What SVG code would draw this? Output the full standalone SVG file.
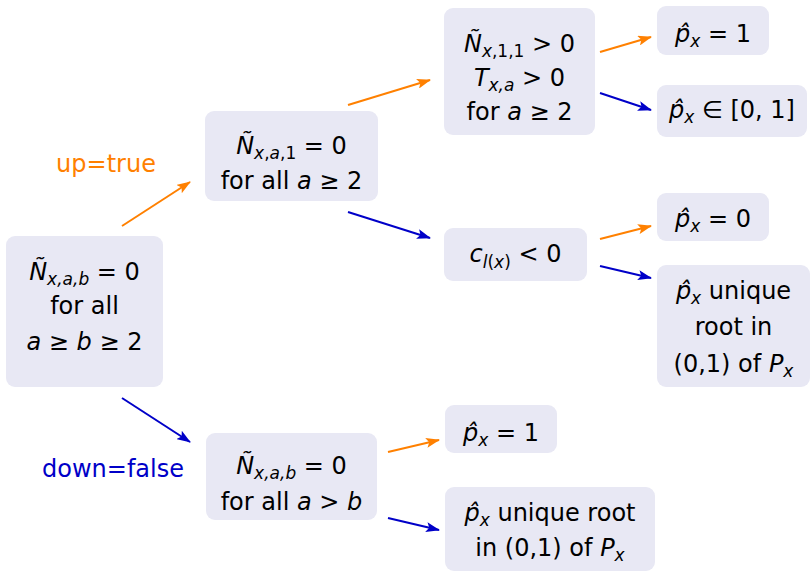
<svg xmlns="http://www.w3.org/2000/svg" width="811" height="571" viewBox="0 0 811 571">
<style>
.box{fill:#e8e8f4}
.t{font-family:"DejaVu Sans",sans-serif;font-size:24px;fill:#000;text-anchor:middle}
.i{font-style:italic}
.s{font-size:17px}
.lab{font-family:"DejaVu Sans",sans-serif;font-size:24px;text-anchor:middle}
.o{stroke:#ff8000;stroke-width:2;fill:none}
.b{stroke:#0000c8;stroke-width:2;fill:none}
</style>
<defs>
<marker id="ao" markerUnits="userSpaceOnUse" markerWidth="14" markerHeight="10" refX="13" refY="5" orient="auto"><path d="M0,0 L14,5 L0,10 L3,5 z" fill="#ff8000"/></marker>
<marker id="ab" markerUnits="userSpaceOnUse" markerWidth="14" markerHeight="10" refX="13" refY="5" orient="auto"><path d="M0,0 L14,5 L0,10 L3,5 z" fill="#0000c8"/></marker>
</defs>
<g id="connectors">
<line class="o" x1="122" y1="226" x2="190" y2="182" marker-end="url(#ao)"/>
<line class="b" x1="122" y1="398" x2="190" y2="442" marker-end="url(#ab)"/>
<line class="o" x1="348" y1="105" x2="430" y2="80" marker-end="url(#ao)"/>
<line class="b" x1="348" y1="212" x2="430" y2="238" marker-end="url(#ab)"/>
<line class="o" x1="600" y1="52" x2="651" y2="37" marker-end="url(#ao)"/>
<line class="b" x1="600" y1="93" x2="651" y2="110" marker-end="url(#ab)"/>
<line class="o" x1="600" y1="239" x2="651" y2="226" marker-end="url(#ao)"/>
<line class="b" x1="600" y1="266" x2="651" y2="278" marker-end="url(#ab)"/>
<line class="o" x1="388" y1="452" x2="439" y2="440" marker-end="url(#ao)"/>
<line class="b" x1="388" y1="518" x2="439" y2="530" marker-end="url(#ab)"/>
<text class="lab" x="106" y="172" fill="#ff8000">up=true</text>
<text class="lab" x="113" y="477" fill="#0000c8">down=false</text>
</g>
<g id="root">
<rect class="box" x="6" y="236" width="157" height="151" rx="9"/>
<text class="t" x="84.5" y="280"><tspan class="i">Ñ</tspan><tspan class="s i" dy="5">x,a,b</tspan><tspan dy="-5"> = 0</tspan></text>
<text class="t" x="84.5" y="314">for all</text>
<text class="t" x="84.5" y="350"><tspan class="i">a</tspan> ≥ <tspan class="i">b</tspan> ≥ 2</text>
</g>
<g id="nodeA">
<rect class="box" x="205" y="111" width="173" height="90" rx="9"/>
<text class="t" x="291.5" y="154"><tspan class="i">Ñ</tspan><tspan class="s" dy="5"><tspan class="i">x</tspan>,<tspan class="i">a</tspan>,1</tspan><tspan dy="-5"> = 0</tspan></text>
<text class="t" x="291.5" y="189">for all <tspan class="i">a</tspan> ≥ 2</text>
</g>
<g id="nodeB">
<rect class="box" x="444" y="8" width="151" height="127" rx="9"/>
<text class="t" x="519.5" y="52"><tspan class="i">Ñ</tspan><tspan class="s" dy="5"><tspan class="i">x</tspan>,1,1</tspan><tspan dy="-5"> &gt; 0</tspan></text>
<text class="t" x="519.5" y="86"><tspan class="i">T</tspan><tspan class="s i" dy="5">x,a</tspan><tspan dy="-5"> &gt; 0</tspan></text>
<text class="t" x="519.5" y="120">for <tspan class="i">a</tspan> ≥ 2</text>
</g>
<g id="leaf1">
<rect class="box" x="657" y="6" width="112" height="49" rx="9"/>
<text class="t" x="713" y="42"><tspan class="i">p̂</tspan><tspan class="s i" dy="5">x</tspan><tspan dy="-5"> = 1</tspan></text>
</g>
<g id="leaf2">
<rect class="box" x="657" y="85" width="150" height="52" rx="9"/>
<text class="t" x="732" y="118"><tspan class="i">p̂</tspan><tspan class="s i" dy="5">x</tspan><tspan dy="-5"> ∈ [0, 1]</tspan></text>
</g>
<g id="nodeC">
<rect class="box" x="444" y="228" width="143" height="53" rx="9"/>
<text class="t" x="515.5" y="262"><tspan class="i">c</tspan><tspan class="s" dy="6"><tspan class="i">l</tspan>(<tspan class="i">x</tspan>)</tspan><tspan dy="-6"> &lt; 0</tspan></text>
</g>
<g id="leaf3">
<rect class="box" x="657" y="193" width="112" height="48" rx="9"/>
<text class="t" x="713" y="227"><tspan class="i">p̂</tspan><tspan class="s i" dy="5">x</tspan><tspan dy="-5"> = 0</tspan></text>
</g>
<g id="leaf4">
<rect class="box" x="657" y="265" width="153" height="122" rx="9"/>
<text class="t" x="733.5" y="299"><tspan class="i">p̂</tspan><tspan class="s i" dy="5">x</tspan><tspan dy="-5"> unique</tspan></text>
<text class="t" x="733.5" y="335">root in</text>
<text class="t" x="733.5" y="372">(0,1) of <tspan class="i">P</tspan><tspan class="s i" dy="5">x</tspan></text>
</g>
<g id="nodeD">
<rect class="box" x="206" y="433" width="171" height="87" rx="9"/>
<text class="t" x="291.5" y="474"><tspan class="i">Ñ</tspan><tspan class="s i" dy="5">x,a,b</tspan><tspan dy="-5"> = 0</tspan></text>
<text class="t" x="291.5" y="510">for all <tspan class="i">a</tspan> &gt; <tspan class="i">b</tspan></text>
</g>
<g id="leaf5">
<rect class="box" x="445" y="405" width="112" height="48" rx="9"/>
<text class="t" x="501" y="441"><tspan class="i">p̂</tspan><tspan class="s i" dy="5">x</tspan><tspan dy="-5"> = 1</tspan></text>
</g>
<g id="leaf6">
<rect class="box" x="445" y="487" width="210" height="84" rx="9"/>
<text class="t" x="550" y="521"><tspan class="i">p̂</tspan><tspan class="s i" dy="5">x</tspan><tspan dy="-5"> unique root</tspan></text>
<text class="t" x="550" y="556">in (0,1) of <tspan class="i">P</tspan><tspan class="s i" dy="5">x</tspan></text>
</g>
</svg>
